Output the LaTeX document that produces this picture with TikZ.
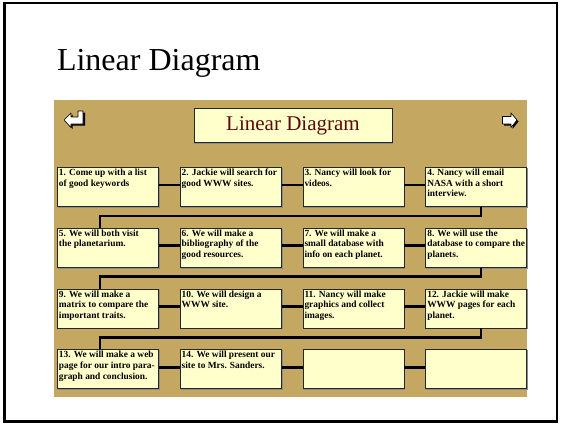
\documentclass[tikz,border=0pt]{standalone}
\usepackage{fontspec}
\setmainfont{Liberation Serif}
\usepackage{xcolor}
\usetikzlibrary{positioning}
\definecolor{tan}{HTML}{C4A862}
\definecolor{paper}{HTML}{FFFFCC}
\definecolor{maroon}{HTML}{5A0A0A}
\def\steptext#1{\parbox[t][36pt][t]{98pt}{\raggedright\fontsize{9.4}{10.6}\selectfont\bfseries #1}}

\begin{document}
\begin{tikzpicture}[x=1pt, y=-1pt,
	stbox/.style={rectangle, draw=black!85, fill=paper, line width=0.8pt, inner sep=1.5pt, minimum width=101pt, minimum height=39pt, anchor=north,
		preaction={draw=black!45, line width=1pt, transform canvas={xshift=0.9pt, yshift=-0.9pt}}},
	link/.style={line width=2.6pt, black},
	icon/.style={fill=white, draw=black, line width=0.6pt, line join=round},
	node distance=21pt and 21pt,
	]
	\useasboundingbox (0,0) rectangle (562,426);
	\draw[line width=2.5pt] (4.5,3) rectangle (557,421.5);

		%Title
    \node[anchor=base west, font=\fontsize{32}{36}\selectfont] (head) at (53.5,70) {Linear Diagram};
    \fill[tan] (54,100) rectangle (527,397);

		%Nodes
    \node[stbox, minimum width=198pt, minimum height=34pt, text=maroon, font=\fontsize{21}{24}\selectfont] (banner) at (293,108) {Linear Diagram};
    \node[stbox, anchor=north west] (s1)  at (57,167)  {\steptext{1. Come up with a list\\of good keywords}};
    \node[stbox]       (s2)         [right=of s1]      {\steptext{2. Jackie will search for\\good WWW sites.}};
    \node[stbox]       (s3)         [right=of s2]      {\steptext{3. Nancy will look for\\videos.}};
    \node[stbox]       (s4)         [right=of s3]      {\steptext{4. Nancy will email\\NASA with a short\\interview.}};
    \node[stbox]       (s5)         [below=of s1]      {\steptext{5. We will both visit\\the planetarium.}};
    \node[stbox]       (s6)         [right=of s5]      {\steptext{6. We will make a\\bibliography of the\\good resources.}};
    \node[stbox]       (s7)         [right=of s6]      {\steptext{7. We will make a\\small database with\\info on each planet.}};
    \node[stbox]       (s8)         [right=of s7]      {\steptext{8. We will use the\\database to compare the\\planets.}};
    \node[stbox]       (s9)         [below=of s5]      {\steptext{9. We will make a\\matrix to compare the\\important traits.}};
    \node[stbox]       (s10)        [right=of s9]      {\steptext{10. We will design a\\WWW site.}};
    \node[stbox]       (s11)        [right=of s10]     {\steptext{11. Nancy will make\\graphics and collect\\images.}};
    \node[stbox]       (s12)        [right=of s11]     {\steptext{12. Jackie will make\\WWW pages for each\\planet.}};
    \node[stbox]       (s13)        [below=of s9]      {\steptext{13. We will make a web\\page for our intro para-\\graph and conclusion.}};
    \node[stbox]       (s14)        [right=of s13]     {\steptext{14. We will present our\\site to Mrs. Sanders.}};
    \node[stbox]       (s15)        [right=of s14]     {\steptext{}};
    \node[stbox]       (s16)        [right=of s15]     {\steptext{}};

		%Lines
		\foreach \a/\b in {1/2,2/3,3/4,5/6,6/7,7/8,9/10,10/11,11/12,13/14,14/15,15/16}
			\draw[link] ([yshift=2pt]s\a.east) -- ([yshift=2pt]s\b.west);
		\foreach \a/\b in {4/5,8/9,12/13}
			\draw[link] ([xshift=4.5pt]s\a.south) -- ++(0,-9pt) -| ([xshift=-8pt]s\b.north);

		%Icons
		\fill[black] (65.5,121.5) -- (72.5,114.5) -- (72.5,118.5) -- (79.5,118.5) -- (79.5,112.5) -- (85,112.5) -- (85,125.5) -- (72.5,125.5) -- (72.5,129) -- cycle;
		\draw[icon] (64,120) -- (71,113) -- (71,117) -- (78,117) -- (78,111) -- (83,111) -- (83,124) -- (71,124) -- (71,127.5) -- cycle;
		\fill[black] (518.5,121.5) -- (512.5,114.5) -- (512.5,118) -- (504,118) -- (504,125.5) -- (512.5,125.5) -- (512.5,129) -- cycle;
		\draw[icon] (517,120) -- (511,113) -- (511,116.5) -- (502.5,116.5) -- (502.5,124) -- (511,124) -- (511,127.5) -- cycle;
	\end{tikzpicture}
\end{document}
